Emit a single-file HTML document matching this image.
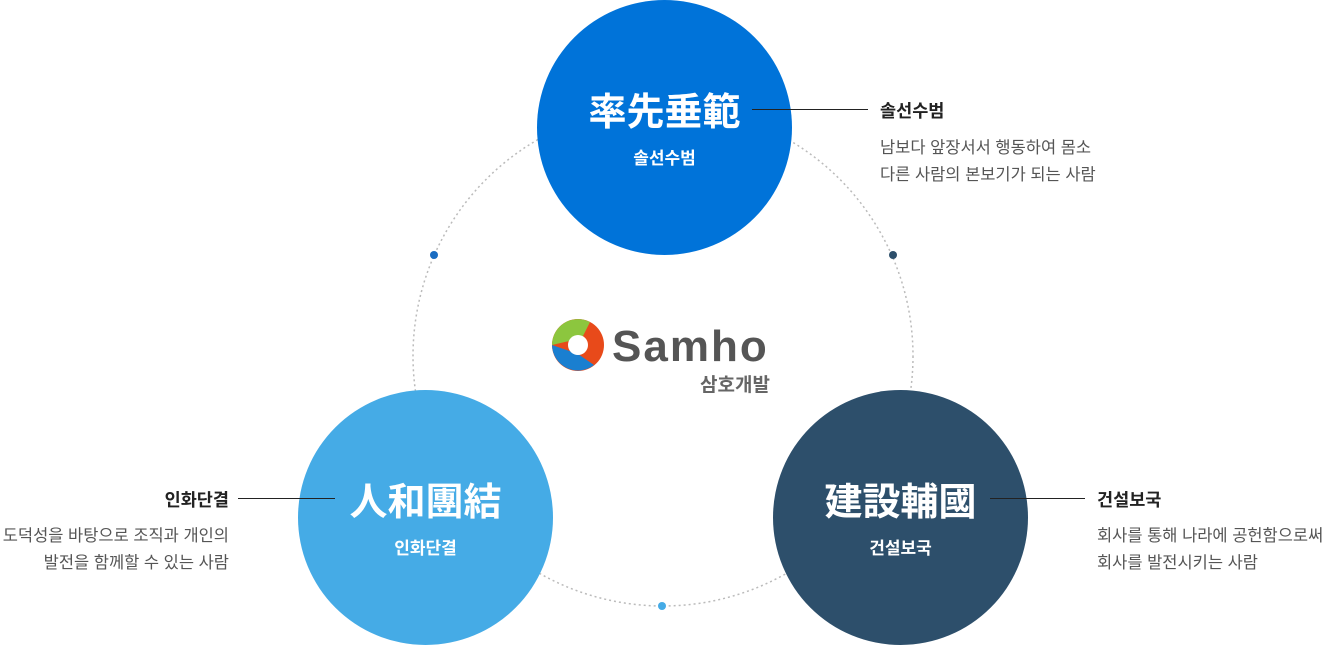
<!DOCTYPE html>
<html><head><meta charset="utf-8"><style>
body{margin:0;width:1324px;height:645px;background:#fff;position:relative;overflow:hidden;font-family:"Liberation Sans","Noto Sans CJK KR",sans-serif}
.c{position:absolute;width:255px;height:255px;border-radius:50%;color:#fff;text-align:center}
.c h2{margin:0;position:absolute;left:0;right:0;top:86px;font-size:38px;font-weight:bold;font-family:"Noto Sans CJK KR",sans-serif;line-height:46px}
.c p{margin:0;position:absolute;left:0;right:0;top:144px;font-size:17px;font-weight:bold}
.t{position:absolute;font-size:17.5px;font-weight:bold;color:#222}
.d{position:absolute;font-size:16.5px;color:#555;line-height:27px}
.l{position:absolute;height:1px;background:#222}
</style></head><body>
<svg width="1324" height="645" style="position:absolute;left:0;top:0">
<circle cx="663" cy="356" r="250" fill="none" stroke="#bbb" stroke-width="1.5" stroke-dasharray="2 3"/>
<circle cx="434" cy="255" r="4" fill="#1a6dc2"/>
<circle cx="893" cy="255" r="4" fill="#2d4f6b"/>
<circle cx="662" cy="606" r="4" fill="#45abe6"/>
<g transform="translate(578,345)">
<circle r="26" fill="#e84a1a"/>
<path d="M-26,0 A26,26 0 0 1 12,-23 L4,-7 Z" fill="#8cc63e"/>
<path d="M-26,0 A26,26 0 0 0 16,20 L0,9 Z" fill="#1a7fd0"/>
<circle r="10" fill="#fff"/>
</g>
</svg>
<div style="position:absolute;left:612px;top:322px;font-size:44px;font-weight:bold;color:#555;letter-spacing:2px">Samho</div>
<div style="position:absolute;left:700px;top:370px;font-size:19px;font-weight:bold;color:#666">삼호개발</div>
<div class="c" style="left:537px;top:0;background:#0073d9"><h2>率先垂範</h2><p>솔선수범</p></div>
<div class="c" style="left:298px;top:390px;background:#45abe6"><h2>人和團結</h2><p>인화단결</p></div>
<div class="c" style="left:773px;top:390px;background:#2d4f6b"><h2>建設輔國</h2><p>건설보국</p></div>
<div class="l" style="left:752px;top:109px;width:116px"></div>
<div class="l" style="left:238px;top:498px;width:97px"></div>
<div class="l" style="left:990px;top:498px;width:95px"></div>
<div class="t" style="left:880px;top:98px">솔선수범</div>
<div class="d" style="left:880px;top:135px">남보다 앞장서서 행동하여 몸소<br>다른 사람의 본보기가 되는 사람</div>
<div class="t" style="right:1095px;top:487px;text-align:right">인화단결</div>
<div class="d" style="right:1095px;top:523px;text-align:right">도덕성을 바탕으로 조직과 개인의<br>발전을 함께할 수 있는 사람</div>
<div class="t" style="left:1097px;top:487px">건설보국</div>
<div class="d" style="left:1097px;top:523px">회사를 통해 나라에 공헌함으로써<br>회사를 발전시키는 사람</div>
</body></html>
